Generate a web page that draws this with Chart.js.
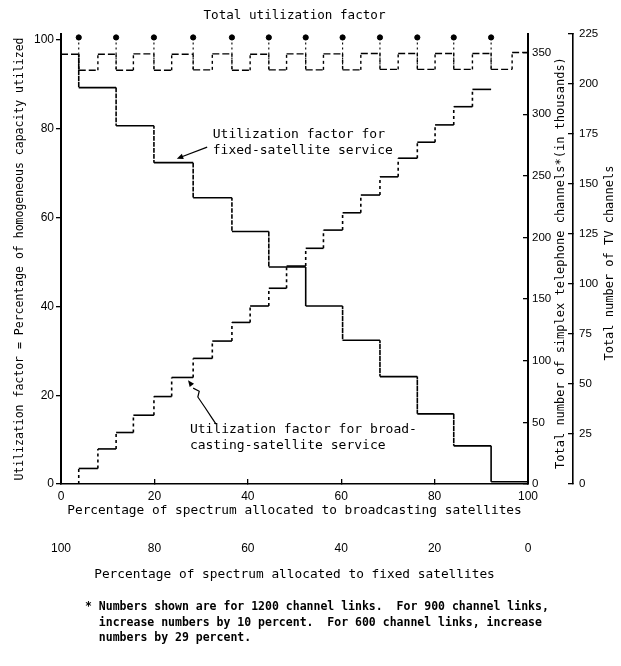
<!DOCTYPE html>
<html>
<head>
<meta charset="utf-8">
<script src="https://cdn.jsdelivr.net/npm/chart.js@4/dist/chart.umd.min.js"></script>
<style>
    html, body { margin: 0; padding: 0; background: #fff; }
    #wrap { position: relative; width: 621px; height: 666px; }
    #nota {
        position: absolute; left: 85px; top: 599px;
        font: bold 11.5px "DejaVu Sans Mono", monospace;
        line-height: 15.5px; white-space: pre; color: #000;
    }
</style>
</head>
<body>
<div id="wrap">
    <canvas id="grafico" width="621" height="666"></canvas>
    <div id="nota">* Numbers shown are for 1200 channel links.  For 900 channel links,
  increase numbers by 10 percent.  For 600 channel links, increase
  numbers by 29 percent.</div>
</div>
<script>
// --- DADOS ---
// bordas dos degraus, em % do espectro para satélites de radiodifusão
const stepEdges = [0, 3.8, 7.9, 11.8, 15.5, 19.9, 23.7, 28.3, 32.4, 36.6, 40.5, 44.5, 48.3,
    52.4, 56.2, 60.3, 64.2, 68.3, 72.2, 76.3, 80.1, 84.1, 88.1, 92.1, 96.6, 100];
// fator de utilização - serviço de radiodifusão (um valor por degrau)
const broadcastUtil = [0, 3.5, 7.9, 11.6, 15.5, 19.7, 24.0, 28.3, 32.2, 36.4, 40.1, 44.1,
    49.1, 53.1, 57.2, 61.1, 65.1, 69.2, 73.4, 77.0, 80.9, 85.0, 88.9];
// fator de utilização total
const totalUtil = [96.8, 93.2, 96.8, 93.2, 96.9, 93.2, 96.8, 93.3, 96.9, 93.2, 96.8, 93.3,
    96.9, 93.3, 96.9, 93.3, 97.0, 93.4, 97.0, 93.4, 97.0, 93.4, 97.0, 93.4, 97.2];
// degraus do serviço fixo
const fixedEdges = [0, 3.8, 11.8, 19.9, 28.3, 36.6, 44.5, 52.4, 60.3, 68.3, 76.3, 84.1, 92.1, 100];
const fixedUtil = [96.8, 89.3, 80.7, 72.4, 64.5, 56.9, 48.9, 40.1, 32.4, 24.2, 15.8, 8.6, 0.5];
// pontos do topo
const peakLevel = 100.6;

// rótulos dos eixos
const xTicks = [0, 20, 40, 60, 80, 100];
const xFixedTicks = [0, 20, 40, 60, 80, 100];
const yTicks = [0, 20, 40, 60, 80, 100];
const phoneTicks = [0, 50, 100, 150, 200, 250, 300, 350];
const tvTicks = [0, 25, 50, 75, 100, 125, 150, 175, 200, 225];

const MONO = '"DejaVu Sans Mono", monospace';
const tickFont = { family: '"Liberation Sans", Arial, sans-serif', size: 12 };
const rightTickFont = { family: '"Liberation Sans", Arial, sans-serif', size: 11.5 };

// monta os pontos de uma escada: horizontal em cada intervalo, vertical nas bordas
function stepPoints(edges, vals) {
    const pts = [];
    vals.forEach((v, i) => {
        pts.push({ x: edges[i], y: v }, { x: edges[i + 1], y: v });
    });
    return pts;
}

// hastes tracejadas que descem dos pontos do topo
function stemPoints() {
    const pts = [];
    fixedEdges.slice(1, -1).forEach(e => {
        const idx = stepEdges.indexOf(e);
        pts.push({ x: e, y: peakLevel }, { x: e, y: totalUtil[idx] }, { x: e, y: null });
    });
    return pts;
}

const vertDash = ctx => ctx.p0.parsed.x === ctx.p1.parsed.x ? [3, 3] : undefined;

function fixedTicks(arr) {
    return scale => { scale.ticks = arr.map(v => ({ value: v })); };
}

function arrowHead(ctx, fx, fy, tx, ty, size) {
    const a = Math.atan2(ty - fy, tx - fx);
    ctx.beginPath();
    ctx.moveTo(tx, ty);
    ctx.lineTo(tx - size * Math.cos(a - 0.4), ty - size * Math.sin(a - 0.4));
    ctx.lineTo(tx - size * Math.cos(a + 0.4), ty - size * Math.sin(a + 0.4));
    ctx.closePath();
    ctx.fill();
}

// --- ANOTAÇÕES E TÍTULOS DOS EIXOS DA DIREITA ---
const notas = {
    id: 'notas',
    afterDraw(chart) {
        const { ctx, scales } = chart;
        const x = scales.x, y = scales.y;
        const px = v => x.getPixelForValue(v);
        const py = v => y.getPixelForValue(v);
        ctx.save();
        ctx.fillStyle = '#000';
        ctx.strokeStyle = '#000';
        ctx.lineWidth = 1.2;
        ctx.textBaseline = 'middle';
        ctx.font = '13px ' + MONO;

        // serviço fixo
        ctx.fillText('Utilization factor for', px(32.5), py(78.6));
        ctx.fillText('fixed-satellite service', px(32.5), py(75.0));
        ctx.beginPath();
        ctx.moveTo(px(31.3), py(75.9));
        ctx.lineTo(px(25.6), py(73.6));
        ctx.stroke();
        arrowHead(ctx, px(31.3), py(75.9), px(24.8), py(73.3), 7);

        // serviço de radiodifusão
        ctx.fillText('Utilization factor for broad-', px(27.6), py(12.2));
        ctx.fillText('casting-satellite service', px(27.6), py(8.6));
        const curva = [[33.2, 13.5], [32.3, 14.9], [30.8, 17.3], [29.3, 19.6], [29.6, 20.9], [28.3, 21.6]];
        ctx.beginPath();
        curva.forEach(([a, b], i) => i ? ctx.lineTo(px(a), py(b)) : ctx.moveTo(px(a), py(b)));
        ctx.stroke();
        arrowHead(ctx, px(28.6), py(21.4), px(27.2), py(23.4), 7);

        // títulos verticais (lidos de baixo para cima)
        ctx.font = '12px ' + MONO;
        ctx.textAlign = 'center';
        const midY = (chart.chartArea.top + chart.chartArea.bottom) / 2 + 4;
        [[scales.yPhone.left + 33, 'Total number of simplex telephone channels*(in thousands)'],
         [scales.yTV.left + 37, 'Total number of TV channels']].forEach(([tx, txt]) => {
            ctx.save();
            ctx.translate(tx, midY);
            ctx.rotate(-Math.PI / 2);
            ctx.fillText(txt, 0, 0);
            ctx.restore();
        });
        ctx.restore();
    }
};

new Chart(document.getElementById('grafico'), {
    type: 'line',
    data: {
        datasets: [
            {
                label: 'Total utilization factor',
                data: stepPoints(stepEdges, totalUtil),
                borderColor: '#000', borderWidth: 1.4, borderDash: [7, 3],
                pointRadius: 0, segment: { borderDash: vertDash }
            },
            {
                label: 'Fixed-satellite service',
                data: stepPoints(fixedEdges, fixedUtil).slice(1),
                borderColor: '#000', borderWidth: 1.6,
                pointRadius: 0, segment: { borderDash: vertDash }
            },
            {
                label: 'Broadcasting-satellite service',
                data: stepPoints(stepEdges, broadcastUtil),
                borderColor: '#000', borderWidth: 1.6,
                pointRadius: 0, segment: { borderDash: vertDash }
            },
            {
                label: 'stems',
                data: stemPoints(),
                borderColor: '#000', borderWidth: 1.1, borderDash: [2, 3],
                pointRadius: 0, spanGaps: false
            },
            {
                label: 'peaks',
                data: fixedEdges.slice(1, -1).map(e => ({ x: e, y: peakLevel })),
                showLine: false, pointRadius: 2.6,
                pointBackgroundColor: '#000', pointBorderColor: '#000'
            }
        ]
    },
    options: {
        responsive: false,
        animation: false,
        events: [],
        layout: { padding: { bottom: 84 } },
        plugins: {
            legend: { display: false },
            tooltip: { enabled: false },
            title: {
                display: true, fullSize: false,
                text: 'Total utilization factor',
                color: '#000', font: { family: MONO, size: 12.6, weight: 'normal' },
                padding: { top: 8, bottom: 11 }
            }
        },
        scales: {
            x: {
                type: 'linear', position: 'bottom', min: 0, max: 100,
                afterBuildTicks: fixedTicks(xTicks),
                afterFit: s => { s.height = 34; },
                border: { display: true, color: '#000', width: 1.6 },
                grid: { display: true, drawOnChartArea: false, tickLength: -5, color: '#000', lineWidth: 1.3 },
                ticks: { padding: 10, font: tickFont, color: '#000', maxRotation: 0 },
                title: {
                    display: true, color: '#000', padding: 0,
                    text: 'Percentage of spectrum allocated to broadcasting satellites',
                    font: { family: MONO, size: 12.8 }
                }
            },
            x2: {
                type: 'linear', position: 'bottom', reverse: true, min: 0, max: 100,
                afterBuildTicks: fixedTicks(xFixedTicks),
                afterFit: s => { s.height = 64; },
                border: { display: false },
                grid: { display: false, drawTicks: false },
                ticks: { padding: 23, font: tickFont, color: '#000', maxRotation: 0 },
                title: {
                    display: true, color: '#000', padding: 0,
                    text: 'Percentage of spectrum allocated to fixed satellites',
                    font: { family: MONO, size: 12.8 }
                }
            },
            y: {
                type: 'linear', position: 'left', min: 0, max: 101.35,
                afterBuildTicks: fixedTicks(yTicks),
                afterFit: s => { s.width = 61; },
                border: { display: true, color: '#000', width: 2 },
                grid: { display: true, drawOnChartArea: false, tickLength: 5, color: '#000', lineWidth: 1.3 },
                ticks: { padding: 2, font: tickFont, color: '#000' },
                title: {
                    display: true, color: '#000', padding: { top: 13 },
                    text: 'Utilization factor = Percentage of homogeneous capacity utilized',
                    font: { family: MONO, size: 11.5 }
                }
            },
            yPhone: {
                type: 'linear', position: 'right', min: 0, max: 365,
                afterBuildTicks: fixedTicks(phoneTicks),
                afterFit: s => { s.width = 45; },
                border: { display: true, color: '#000', width: 2 },
                grid: { display: true, drawOnChartArea: false, tickLength: -5, color: '#000', lineWidth: 1.3 },
                ticks: { padding: 9, font: rightTickFont, color: '#000' }
            },
            yTV: {
                type: 'linear', position: 'right', min: 0, max: 225,
                afterBuildTicks: fixedTicks(tvTicks),
                afterFit: s => { s.width = 48; },
                border: { display: true, color: '#000', width: 1.6 },
                grid: { display: true, drawOnChartArea: false, tickLength: -5, color: '#000', lineWidth: 1.3 },
                ticks: { padding: 11, font: rightTickFont, color: '#000' }
            }
        }
    },
    plugins: [notas]
});
</script>
</body>
</html>
